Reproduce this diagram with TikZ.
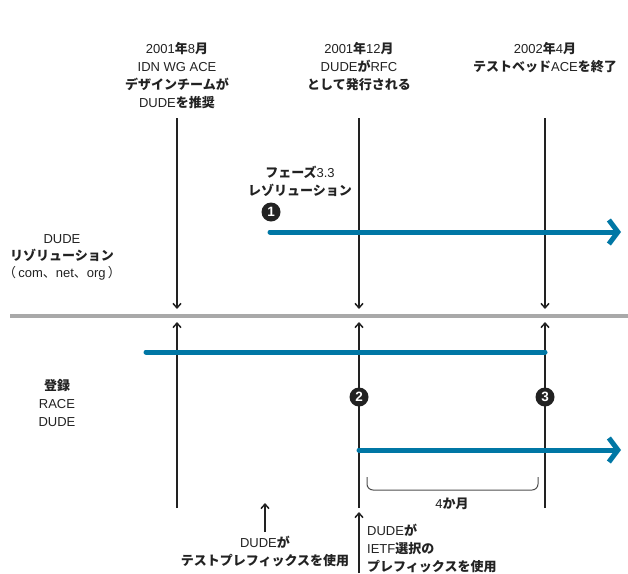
\documentclass[tikz,border=0pt]{standalone}
\usepackage{fontspec}
\setmainfont{Liberation Sans}
\newfontfamily\jpfont{Noto Sans CJK JP}
\usetikzlibrary{arrows.meta}
\newcommand\J[1]{{\jpfont\bfseries #1}}
\definecolor{ink}{HTML}{222222}
\definecolor{tealblue}{HTML}{0077A5}
\definecolor{midgray}{HTML}{A9A9A9}
\tikzset{
  lbl/.style={inner sep=0pt, align=center, anchor=north, text=ink,
    font=\fontsize{13}{18}\selectfont},
  lbll/.style={lbl, align=left, anchor=north west},
  vline/.style={draw=ink, line width=1.5pt},
  varrow/.style={vline, -{Straight Barb[length=4.5pt,width=8pt]}},
  bluebar/.style={draw=tealblue, line width=5pt, line cap=round},
  bluearrow/.style={bluebar, -{Straight Barb[length=9pt,width=24pt]}},
  numdot/.style={circle, fill=ink, inner sep=0pt, minimum size=19pt,
    text=white, font=\fontsize{13.5}{13.5}\selectfont\bfseries},
}
\begin{document}
\begin{tikzpicture}[x=1pt,y=-1pt]
\useasboundingbox (0,0) rectangle (628,573);
% gray divider
\coordinate (gl) at (10,316);
\coordinate (gr) at (628,316);
\draw[midgray, line width=4pt] (gl) -- (gr);
% top labels
\node[lbl] (t1) at (177,42) {2001\J{年}8\J{月}\\IDN WG ACE\\\J{デザインチームが}\\DUDE\J{を推奨}};
\node[lbl] (t2) at (359,42) {2001\J{年}12\J{月}\\DUDE\J{が}RFC\\\J{として発行される}};
\node[lbl] (t3) at (545,42) {2002\J{年}4\J{月}\\\J{テストベッド}ACE\J{を終了}};
% vertical lines
\foreach \x/\n in {177/a,359/b,545/c}{
  \coordinate (top\n) at (\x,118);
  \coordinate (tip\n) at (\x,309);
  \coordinate (bot\n) at (\x,508);
  \coordinate (up\n) at (\x,322);
  \draw[varrow] (top\n) -- (tip\n);
  \draw[varrow] (bot\n) -- (up\n);
}
% phase label
\node[lbl] (ph) at (300,166) {\J{フェーズ}3.3\\\J{レゾリューション}};
\node[numdot] (n1) at (271,212) {1};
% blue arrows
\coordinate (b1s) at (270,232);
\coordinate (b1e) at (621,232);
\draw[bluearrow] (b1s) -- (b1e);
\coordinate (b2s) at (146,352);
\coordinate (b2e) at (545,352);
\draw[bluebar] (b2s) -- (b2e);
\coordinate (b3s) at (359,450);
\coordinate (b3e) at (621,450);
\draw[bluearrow] (b3s) -- (b3e);
% left labels
\node[lbl, font=\fontsize{13}{17}\selectfont] (l1) at (62,234) {DUDE\\\J{リゾリューション}\\{\jpfont（}\,com{\jpfont 、}net{\jpfont 、}org\,{\jpfont ）}};
\node[lbl] (l2) at (57,379) {\J{登録}\\RACE\\DUDE};
% numbered dots
\node[numdot] (n2) at (359,397) {2};
\node[numdot] (n3) at (545,397) {3};
% brace
\coordinate (brl) at (367,477);
\coordinate (brm) at (452,490);
\coordinate (brr) at (538,477);
\draw[ink!80, line width=1pt, rounded corners=6pt] (brl) |- (brm) -| (brr);
\node[lbl] (m4) at (452,498) {4\J{か月}};
% bottom notes
\coordinate (a1s) at (265,532);
\coordinate (a1e) at (265,503);
\draw[varrow] (a1s) -- (a1e);
\node[lbl] (d1) at (265,536) {DUDE\J{が}\\\J{テストプレフィックスを使用}};
\coordinate (a2s) at (359,573);
\coordinate (a2e) at (359,512);
\draw[varrow] (a2s) -- (a2e);
\node[lbll] (d2) at (367,524) {DUDE\J{が}\\IETF\J{選択の}\\\J{プレフィックスを使用}};
\end{tikzpicture}
\end{document}
